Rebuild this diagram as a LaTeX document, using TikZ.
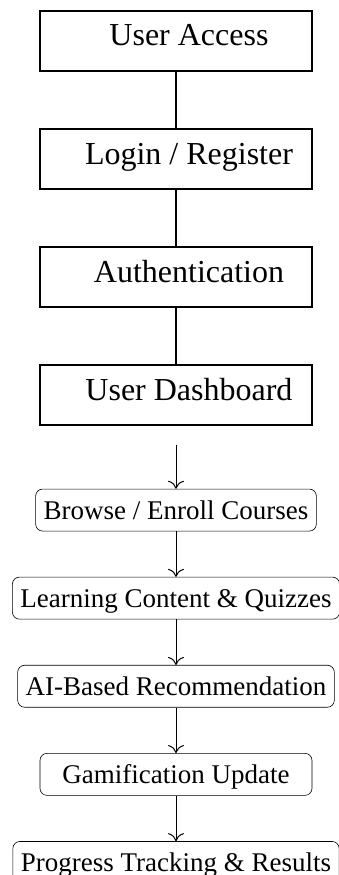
\documentclass[tikz,border=0pt]{standalone}
\usepackage{fontspec}
\setmainfont{Liberation Serif}
\usetikzlibrary{positioning,arrows.meta}

\begin{document}
\begin{tikzpicture}[x=1pt,y=1pt,
    stagebox/.style={draw, line width=1.5pt, minimum width=272pt, minimum height=60pt,
        text height=21pt, text depth=11pt, font=\fontsize{32}{36}\selectfont,
        execute at begin node=\hspace*{26pt}},
    taskbox/.style={draw, line width=0.6pt, rounded corners=7pt, minimum width=272pt,
        minimum height=42pt, inner xsep=8pt, text height=18pt, text depth=0pt,
        font=\fontsize{27}{30}\selectfont},
    link/.style={line width=1.6pt},
    flow/.style={line width=1pt, -{To[length=8pt,width=16pt]}}]
    \useasboundingbox (0,0) rectangle (338,-875);

    % access part
    \node[stagebox] (access) at (176,-41) {User Access};
    \node[stagebox, below=56.5pt of access] (login) {Login / Register};
    \node[stagebox, below=56.5pt of login] (auth) {Authentication};
    \node[stagebox, below=56.5pt of auth] (dash) {User Dashboard};
    \coordinate (start) at ([yshift=-19pt]dash.south);

    % learning part
    \node[taskbox, below=63pt of dash] (browse) {Browse / Enroll Courses};
    \node[taskbox, below=45.5pt of browse] (learn) {Learning Content \& Quizzes};
    \node[taskbox, below=45.5pt of learn] (recom) {AI-Based Recommendation};
    \node[taskbox, below=45.5pt of recom] (game) {Gamification Update};
    \node[taskbox, below=45.5pt of game] (progress) {Progress Tracking \& Results};

    \draw[link] (access) -- (login);
    \draw[link] (login) -- (auth);
    \draw[link] (auth) -- (dash);
    \draw[flow] (start) -- (browse);
    \draw[flow] (browse) -- (learn);
    \draw[flow] (learn) -- (recom);
    \draw[flow] (recom) -- (game);
    \draw[flow] (game) -- (progress);
\end{tikzpicture}
\end{document}
